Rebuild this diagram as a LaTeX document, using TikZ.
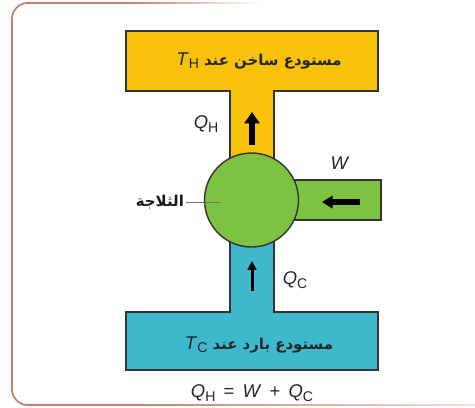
\documentclass[tikz,border=0pt]{standalone}
\usepackage{fontspec}
\setmainfont{Liberation Sans}
\newfontfamily\arabicfont[Script=Arabic]{DejaVu Sans}
\TeXXeTstate=1
\usetikzlibrary{positioning, arrows.meta}
\definecolor{hotcol}{RGB}{249,194,10}
\definecolor{coldcol}{RGB}{62,184,204}
\definecolor{workcol}{RGB}{126,194,66}
\definecolor{framecol}{RGB}{196,128,104}
\tikzstyle{reservoir} = [
draw=black!80,
line width=0.8pt,
line join=miter
]
\tikzstyle{label} = [
font=\fontsize{10.5}{12}\selectfont,
text=black!85,
inner sep=1pt
]
\tikzstyle{arlabel} = [
font=\fontsize{8.5}{11}\selectfont\arabicfont\bfseries,
text=black!90,
inner sep=1pt
]
\tikzstyle{bigarrow}=[line width=3.6pt,-{Triangle[width=8.5pt,length=6.5pt]}]
\tikzstyle{midarrow}=[line width=3pt,-{Triangle[width=7pt,length=6pt]}]
\tikzstyle{thinarrow}=[line width=1.7pt,-{Triangle[width=5pt,length=5pt]}]
\newcommand{\qsub}[2]{\textit{#1}\raisebox{-0.35ex}{\fontsize{8}{9}\selectfont #2}}

\begin{document}
\begin{tikzpicture}[x=0.02cm,y=-0.02cm]
        \useasboundingbox (0,0) rectangle (475,407);
        
        % frame, fading out to the right
        \draw [framecol, line width=1pt, rounded corners=9pt]
        (130,3) -- (12,3) -- (12,405) -- (130,405);
        \shade [left color=framecol, right color=white] (130,2.3) rectangle (260,3.7);
        \shade [left color=framecol, right color=framecol!25] (130,404.3) rectangle (475,405.7);
        
        % hot reservoir
        \fill [hotcol] (126,31) rectangle (378,91) (230,90) rectangle (274,170);
        \draw [reservoir] (230,170) -- (230,91) -- (126,91) -- (126,31)
        -- (378,31) -- (378,91) -- (274,91) -- (274,170);
        
        % cold reservoir
        \fill [coldcol] (126,312) rectangle (378,370) (230,230) rectangle (274,313);
        \draw [reservoir] (230,230) -- (230,312) -- (126,312) -- (126,370)
        -- (378,370) -- (378,312) -- (274,312) -- (274,230);
        
        % work input
        \draw [reservoir, fill=workcol] (285,180) rectangle (381,220);
        
        % refrigerator
        \node (fridge) [circle, draw=black!80, line width=0.8pt, fill=workcol,
        inner sep=0pt, minimum size=1.88cm] at (251.5,200) {};
        
        \node (hot) [label] at (259,61)
        {\textit{T}\raisebox{-0.35ex}{\fontsize{8}{9}\selectfont H} {\arabicfont\bfseries\fontsize{8.5}{11}\selectfont\beginR مستودع ساخن عند\endR}};
        
        \node (cold) [label] at (259,345)
        {\textit{T}\raisebox{-0.35ex}{\fontsize{8}{9}\selectfont C} {\arabicfont\bfseries\fontsize{8.5}{11}\selectfont\beginR مستودع بارد عند\endR}};
        
        \coordinate (qhtail) at (252,145);
        \coordinate (qhhead) at (252,112);
        \coordinate (qctail) at (252,291);
        \coordinate (qchead) at (252,261);
        \coordinate (wtail) at (360,202);
        \coordinate (whead) at (322,202);
        \coordinate (inside) at (220,202);
        
        \draw [bigarrow] (qhtail) -- (qhhead);
        \draw [midarrow] (wtail) -- (whead);
        \draw [thinarrow] (qctail) -- (qchead);
        
        \node (qh) [label] at (206,124) {\qsub{Q}{H}};
        \node (w) [label] at (340,163) {\textit{W}};
        \node (qc) [label] at (295,280) {\qsub{Q}{C}};
        
        \node (name) [arlabel, anchor=east] at (186,202) {\beginR الثلاجة\endR};
        \draw [black!55, line width=0.5pt] (name.east) -- (inside);
        
        \node (law) [label] at (252,393)
        {\qsub{Q}{H} \,=\, \textit{W} \,+\, \qsub{Q}{C}};
        
        \end{tikzpicture}
\end{document}
